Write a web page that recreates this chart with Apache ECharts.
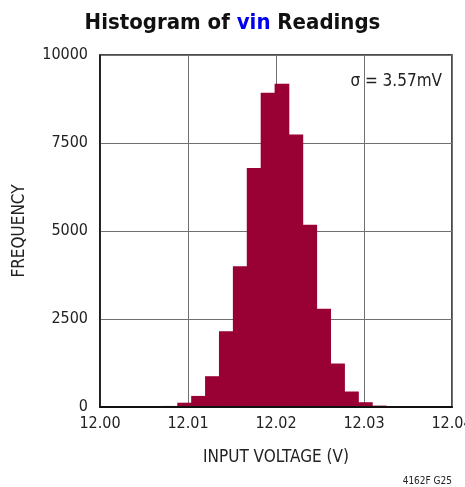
<!DOCTYPE html>
<html><head><meta charset="utf-8">
<script src="https://cdn.jsdelivr.net/npm/echarts@6/dist/echarts.min.js"></script>
<style>html,body{margin:0;padding:0;background:#fff}#c{width:465px;height:487px}</style>
</head><body><div id="c"></div>
<script>
const binStarts = [12.00088, 12.00246, 12.00404, 12.00562, 12.00720, 12.00878, 12.01036, 12.01194, 12.01352, 12.01510, 12.01668, 12.01826, 12.01984, 12.02142, 12.02300, 12.02458, 12.02616, 12.02774, 12.02932, 12.03090, 12.03248, 12.03406, 12.03564];
const counts    = [5, 5, 10, 12, 30, 122, 315, 875, 2150, 4000, 6790, 8930, 9180, 7740, 5175, 2790, 1235, 440, 136, 40, 20, 10, 5];
const binWidth = 0.00158;
const xTicks = ['12.00', '12.01', '12.02', '12.03', '12.04'];
const yTicks = ['0', '2500', '5000', '7500', '10000'];

const FONT = '"Liberation Sans Narrow", "DejaVu Sans Condensed", Arial, sans-serif';
const chart = echarts.init(document.getElementById('c'));
chart.setOption({
  animation: false,
  title: {
    text: '{a|Histogram of }{b|vin}{a| Readings}',
    left: 'center', top: 7,
    textStyle: { rich: {
      a: { fontFamily: FONT, fontWeight: 'bold', fontSize: 22, color: '#111' },
      b: { fontFamily: FONT, fontWeight: 'bold', fontSize: 22, color: '#0000ee' }
    }}
  },
  grid: { left: 100, right: 13, top: 55, bottom: 80, outerBoundsMode: 'none', containLabel: false,
          show: true, borderColor: '#111', borderWidth: 1.5, backgroundColor: 'transparent' },
  xAxis: [{
    type: 'value', min: 12.00, max: 12.04, interval: 0.01,
    name: 'INPUT VOLTAGE (V)', nameLocation: 'middle', nameGap: 42,
    nameTextStyle: { fontFamily: FONT, fontSize: 17, color: '#222' },
    axisLine: { show: false },
    axisTick: { show: false },
    axisLabel: { fontFamily: FONT, fontSize: 16, color: '#222', margin: 9,
      formatter: v => xTicks[Math.round((v - 12.00) / 0.01)] },
    splitLine: { show: true, lineStyle: { color: '#707070', width: 1 } }
  }, {
    type: 'value', min: 12.00, max: 12.04, position: 'bottom', z: 10,
    axisLine: { show: true, onZero: false, lineStyle: { color: '#111', width: 2 } },
    axisTick: { show: false }, axisLabel: { show: false }, splitLine: { show: false }
  }],
  yAxis: {
    type: 'value', min: 0, max: 10000, interval: 2500,
    name: 'FREQUENCY', nameLocation: 'middle', nameGap: 72,
    nameTextStyle: { fontFamily: FONT, fontSize: 17, color: '#222' },
    axisLine: { show: true, lineStyle: { color: '#111', width: 1.5 } },
    axisTick: { show: false },
    axisLabel: { fontFamily: FONT, fontSize: 16, color: '#222', margin: 12,
      formatter: v => yTicks[Math.round(v / 2500)] },
    splitLine: { show: true, lineStyle: { color: '#707070', width: 1 } }
  },
  graphic: [
    { type: 'text', right: 23, top: 73, style: { text: 'σ = 3.57mV', font: '17px ' + FONT, fill: '#222' } },
    { type: 'text', right: 13, top: 476, style: { text: '4162F G25', font: '10px ' + FONT, fill: '#222' } }
  ],
  series: [{
    type: 'custom',
    data: binStarts.map((s, i) => [s, counts[i]]),
    encode: { x: 0, y: 1 },
    renderItem: function (params, api) {
      const x0 = api.value(0), c = api.value(1);
      const p0 = api.coord([x0, 0]);
      const p1 = api.coord([x0 + binWidth, c]);
      return { type: 'rect', shape: { x: p0[0], y: p1[1], width: p1[0] - p0[0] + 0.8, height: p0[1] - p1[1] },
        style: { fill: '#990033', stroke: null } };
    },
    z: 2
  }]
});
</script></body></html>
